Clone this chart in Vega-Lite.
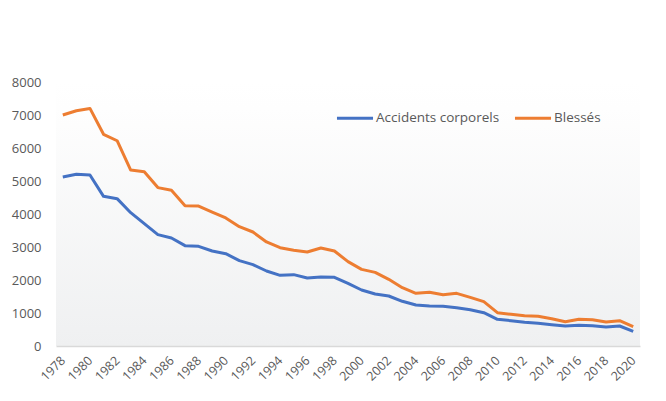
{
  "$schema": "https://vega.github.io/schema/vega-lite/v6.json",
  "autosize": {"type": "none"},
  "width": 584,
  "height": 264,
  "padding": {"left": 56, "top": 82, "right": 26, "bottom": 55},
  "background": "white",
  "config": {
    "font": "Open Sans",
    "view": {
      "stroke": null,
      "fill": {
        "gradient": "linear", "x1": 0, "y1": 0, "x2": 0, "y2": 1,
        "stops": [
          {"offset": 0, "color": "#ffffff"},
          {"offset": 0.1, "color": "#fefefe"},
          {"offset": 1, "color": "#eff0f1"}
        ]
      }
    }
  },
  "data": {
    "values": [
      {"year": 1978, "series": "Accidents corporels", "value": 5121},
      {"year": 1979, "series": "Accidents corporels", "value": 5202},
      {"year": 1980, "series": "Accidents corporels", "value": 5182},
      {"year": 1981, "series": "Accidents corporels", "value": 4535},
      {"year": 1982, "series": "Accidents corporels", "value": 4465},
      {"year": 1983, "series": "Accidents corporels", "value": 4040},
      {"year": 1984, "series": "Accidents corporels", "value": 3707},
      {"year": 1985, "series": "Accidents corporels", "value": 3374},
      {"year": 1986, "series": "Accidents corporels", "value": 3273},
      {"year": 1987, "series": "Accidents corporels", "value": 3040},
      {"year": 1988, "series": "Accidents corporels", "value": 3020},
      {"year": 1989, "series": "Accidents corporels", "value": 2879},
      {"year": 1990, "series": "Accidents corporels", "value": 2798},
      {"year": 1991, "series": "Accidents corporels", "value": 2586},
      {"year": 1992, "series": "Accidents corporels", "value": 2465},
      {"year": 1993, "series": "Accidents corporels", "value": 2273},
      {"year": 1994, "series": "Accidents corporels", "value": 2141},
      {"year": 1995, "series": "Accidents corporels", "value": 2162},
      {"year": 1996, "series": "Accidents corporels", "value": 2061},
      {"year": 1997, "series": "Accidents corporels", "value": 2091},
      {"year": 1998, "series": "Accidents corporels", "value": 2081},
      {"year": 1999, "series": "Accidents corporels", "value": 1899},
      {"year": 2000, "series": "Accidents corporels", "value": 1697},
      {"year": 2001, "series": "Accidents corporels", "value": 1576},
      {"year": 2002, "series": "Accidents corporels", "value": 1515},
      {"year": 2003, "series": "Accidents corporels", "value": 1354},
      {"year": 2004, "series": "Accidents corporels", "value": 1242},
      {"year": 2005, "series": "Accidents corporels", "value": 1212},
      {"year": 2006, "series": "Accidents corporels", "value": 1202},
      {"year": 2007, "series": "Accidents corporels", "value": 1162},
      {"year": 2008, "series": "Accidents corporels", "value": 1101},
      {"year": 2009, "series": "Accidents corporels", "value": 1010},
      {"year": 2010, "series": "Accidents corporels", "value": 808},
      {"year": 2011, "series": "Accidents corporels", "value": 767},
      {"year": 2012, "series": "Accidents corporels", "value": 717},
      {"year": 2013, "series": "Accidents corporels", "value": 687},
      {"year": 2014, "series": "Accidents corporels", "value": 646},
      {"year": 2015, "series": "Accidents corporels", "value": 606},
      {"year": 2016, "series": "Accidents corporels", "value": 626},
      {"year": 2017, "series": "Accidents corporels", "value": 616},
      {"year": 2018, "series": "Accidents corporels", "value": 576},
      {"year": 2019, "series": "Accidents corporels", "value": 606},
      {"year": 2020, "series": "Accidents corporels", "value": 444},
      {"year": 1978, "series": "Blessés", "value": 7000},
      {"year": 1979, "series": "Blessés", "value": 7130},
      {"year": 1980, "series": "Blessés", "value": 7200},
      {"year": 1981, "series": "Blessés", "value": 6415},
      {"year": 1982, "series": "Blessés", "value": 6220},
      {"year": 1983, "series": "Blessés", "value": 5333},
      {"year": 1984, "series": "Blessés", "value": 5280},
      {"year": 1985, "series": "Blessés", "value": 4800},
      {"year": 1986, "series": "Blessés", "value": 4717},
      {"year": 1987, "series": "Blessés", "value": 4252},
      {"year": 1988, "series": "Blessés", "value": 4242},
      {"year": 1989, "series": "Blessés", "value": 4060},
      {"year": 1990, "series": "Blessés", "value": 3879},
      {"year": 1991, "series": "Blessés", "value": 3616},
      {"year": 1992, "series": "Blessés", "value": 3455},
      {"year": 1993, "series": "Blessés", "value": 3152},
      {"year": 1994, "series": "Blessés", "value": 2980},
      {"year": 1995, "series": "Blessés", "value": 2899},
      {"year": 1996, "series": "Blessés", "value": 2848},
      {"year": 1997, "series": "Blessés", "value": 2970},
      {"year": 1998, "series": "Blessés", "value": 2879},
      {"year": 1999, "series": "Blessés", "value": 2556},
      {"year": 2000, "series": "Blessés", "value": 2323},
      {"year": 2001, "series": "Blessés", "value": 2232},
      {"year": 2002, "series": "Blessés", "value": 2020},
      {"year": 2003, "series": "Blessés", "value": 1768},
      {"year": 2004, "series": "Blessés", "value": 1596},
      {"year": 2005, "series": "Blessés", "value": 1626},
      {"year": 2006, "series": "Blessés", "value": 1556},
      {"year": 2007, "series": "Blessés", "value": 1596},
      {"year": 2008, "series": "Blessés", "value": 1475},
      {"year": 2009, "series": "Blessés", "value": 1343},
      {"year": 2010, "series": "Blessés", "value": 1010},
      {"year": 2011, "series": "Blessés", "value": 960},
      {"year": 2012, "series": "Blessés", "value": 919},
      {"year": 2013, "series": "Blessés", "value": 899},
      {"year": 2014, "series": "Blessés", "value": 828},
      {"year": 2015, "series": "Blessés", "value": 737},
      {"year": 2016, "series": "Blessés", "value": 808},
      {"year": 2017, "series": "Blessés", "value": 798},
      {"year": 2018, "series": "Blessés", "value": 727},
      {"year": 2019, "series": "Blessés", "value": 767},
      {"year": 2020, "series": "Blessés", "value": 586}
    ]
  },
  "mark": {"type": "line", "strokeWidth": 3, "strokeJoin": "round"},
  "encoding": {
    "x": {
      "field": "year",
      "type": "ordinal",
      "scale": {"type": "point", "padding": 0.5},
      "axis": {
        "title": null,
        "values": [1978, 1980, 1982, 1984, 1986, 1988, 1990, 1992, 1994, 1996, 1998, 2000, 2002, 2004, 2006, 2008, 2010, 2012, 2014, 2016, 2018, 2020],
        "labelAngle": -45,
        "labelAlign": "right",
        "labelBaseline": "middle",
        "labelPadding": 12,
        "labelFontSize": 12.5,
        "labelColor": "#595959",
        "ticks": false,
        "domainColor": "#d9d9d9",
        "domainWidth": 1.5,
        "grid": false
      }
    },
    "y": {
      "field": "value",
      "type": "quantitative",
      "scale": {"domain": [0, 8000], "nice": false},
      "axis": {
        "title": null,
        "values": [0, 1000, 2000, 3000, 4000, 5000, 6000, 7000, 8000],
        "format": "d",
        "domain": false,
        "ticks": false,
        "grid": false,
        "labelPadding": 15,
        "labelFontSize": 13,
        "labelColor": "#595959"
      }
    },
    "color": {
      "field": "series",
      "type": "nominal",
      "scale": {"domain": ["Accidents corporels", "Blessés"], "range": ["#4472C4", "#ED7D31"]},
      "legend": {
        "title": null,
        "orient": "none",
        "direction": "horizontal",
        "legendX": 279,
        "legendY": 16,
        "symbolType": "stroke",
        "symbolSize": 1300,
        "symbolStrokeWidth": 3,
        "labelFontSize": 13.5,
        "labelColor": "#595959",
        "labelOffset": 1,
        "columnPadding": 8
      }
    }
  }
}
